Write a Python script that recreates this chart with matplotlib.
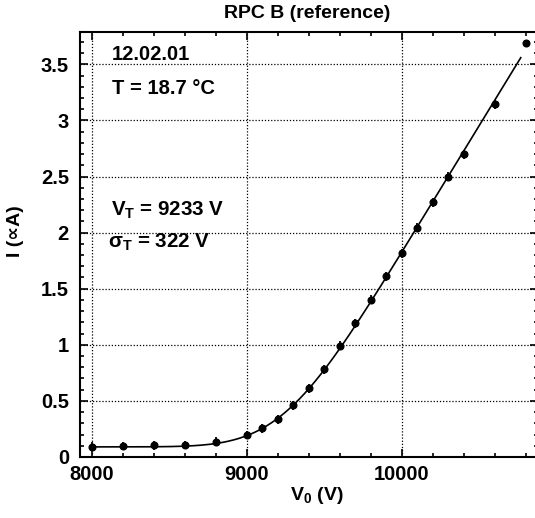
import math
import numpy as np
import matplotlib
matplotlib.use("Agg")
import matplotlib.pyplot as plt
from matplotlib.ticker import MultipleLocator

# measured points
voltage = [8000, 8200, 8400, 8600, 8800, 9000, 9100, 9200, 9300, 9400, 9500,
           9600, 9700, 9800, 9900, 10000, 10100, 10200, 10300, 10400, 10600, 10800]
current = [0.092, 0.098, 0.105, 0.107, 0.136, 0.196, 0.255, 0.336, 0.463, 0.612, 0.78,
           0.992, 1.19, 1.40, 1.613, 1.815, 2.044, 2.27, 2.498, 2.698, 3.144, 3.69]
current_err = [0.04] * 21 + [0.0]

v_thr = 9233
sigma_thr = 322
baseline = 0.09
slope = 0.00226
fit_range = (8000, 10768)

x_ticks = [8000, 9000, 10000]
x_ticklabels = ["8000", "9000", "10000"]
y_ticks = [0, 0.5, 1, 1.5, 2, 2.5, 3, 3.5]
y_ticklabels = ["0", "0.5", "1", "1.5", "2", "2.5", "3", "3.5"]

plt.rcParams["font.family"] = ["Liberation Sans", "DejaVu Sans"]
plt.rcParams["font.weight"] = "bold"
plt.rcParams["mathtext.fontset"] = "custom"
plt.rcParams["mathtext.rm"] = "Liberation Sans:bold"
plt.rcParams["mathtext.it"] = "Liberation Sans:bold"
plt.rcParams["mathtext.bf"] = "Liberation Sans:bold"

W, H = 535, 518
fig = plt.figure(figsize=(W / 100, H / 100), dpi=100)
# right spine sits just outside the picture, like the reference
ax = fig.add_axes([80 / W, 1 - 457 / H, (538 - 80) / W, (457 - 32) / H])

# smoothed threshold: baseline + slope * integral of gaussian cdf
erf = np.vectorize(math.erf)
vf = np.linspace(fit_range[0], fit_range[1], 400)
z = (vf - v_thr) / sigma_thr
cdf = 0.5 * (1 + erf(z / math.sqrt(2)))
pdf = np.exp(-0.5 * z ** 2) / math.sqrt(2 * math.pi)
ax.plot(vf, baseline + slope * ((vf - v_thr) * cdf + sigma_thr * pdf),
        color="k", lw=1.2, zorder=3)

ax.errorbar(voltage, current, yerr=current_err, fmt="o", ms=4.8, color="k",
            elinewidth=1.3, capsize=0, zorder=4)

ax.set_xlim(8000 - 11.7 / 0.155, 8000 + (538 - 91.7) / 0.155)
ax.set_ylim(0, 3.788)
ax.set_xticks(x_ticks)
ax.set_xticklabels(x_ticklabels)
ax.set_yticks(y_ticks)
ax.set_yticklabels(y_ticklabels)
ax.xaxis.set_minor_locator(MultipleLocator(200))
ax.yaxis.set_minor_locator(MultipleLocator(0.1))
ax.tick_params(which="both", direction="in", top=True, right=True,
               labelsize=14.5, width=1.2, colors="k")
ax.tick_params(which="major", length=6)
ax.tick_params(which="minor", length=3)
ax.tick_params(axis="y", pad=8)
ax.tick_params(axis="x", pad=6)
for lab in ax.get_xticklabels() + ax.get_yticklabels():
    lab.set_fontweight("bold")

ax.grid(which="major", color="k", lw=0.9, ls=(0, (1, 1.5)))
for s in ax.spines.values():
    s.set_linewidth(1.5)

fig.text(307 / W, 1 - 14 / H, "RPC B (reference)", ha="center", va="center",
         fontsize=14, fontweight="bold")
fig.text(317 / W, 1 - 496 / H, "$V_0$ (V)", ha="center", va="center",
         fontsize=14, fontweight="bold")
fig.text(15 / W, 1 - 231 / H, "I (\u221dA)", ha="center", va="center",
         rotation=90, fontsize=14, fontweight="bold")

fig.text(112 / W, 1 - 55 / H, "12.02.01", ha="left", va="center",
         fontsize=14.5, fontweight="bold")
fig.text(112 / W, 1 - 88 / H, "T = 18.7 \u00b0C", ha="left", va="center",
         fontsize=14.5, fontweight="bold")
fig.text(111 / W, 1 - 210 / H, "$V_T$ = 9233 V", ha="left", va="center",
         fontsize=14.8, fontweight="bold")
fig.text(108 / W, 1 - 242 / H, "$\\sigma_T$ = 322 V", ha="left", va="center",
         fontsize=14.8, fontweight="bold")

fig.savefig("out.png", dpi=100)
